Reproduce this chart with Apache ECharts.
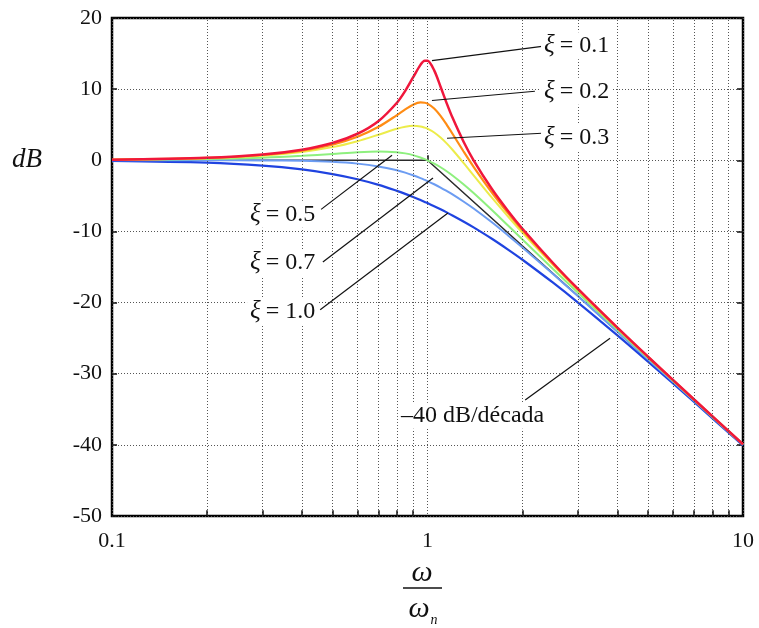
<!DOCTYPE html>
<html>
<head>
<meta charset="utf-8">
<script src="https://cdn.jsdelivr.net/npm/echarts@6/dist/echarts.min.js"></script>
<style>
  html, body { margin: 0; padding: 0; background: #fff; }
  #bode { width: 759px; height: 628px; }
</style>
</head>
<body>
<div id="bode"></div>
<script>
// normalised frequency w/wn
let freq = [0.1, 0.2, 0.3, 0.4, 0.5, 0.6, 0.7, 0.8, 0.85, 0.9, 0.95, 0.98, 1.0, 1.05, 1.1, 1.15, 1.2, 1.3, 1.4, 1.6, 1.8, 2, 2.5, 3, 4, 5, 7, 10];
// magnitude in dB, one list per damping ratio
let z01 = [0.09, 0.35, 0.80, 1.48, 2.42, 3.73, 5.53, 8.09, 9.75, 11.64, 13.41, 13.98, 13.98, 12.63, 10.34, 8.04, 6.00, 2.65, 0.00, -4.04, -7.12, -9.62, -14.44, -18.09, -23.53, -27.61, -33.63, -39.92];
let z02 = [0.08, 0.33, 0.74, 1.36, 2.20, 3.31, 4.71, 6.35, 7.15, 7.81, 8.13, 8.09, 7.96, 7.28, 6.24, 5.01, 3.73, 1.27, -0.92, -4.54, -7.43, -9.84, -14.56, -18.16, -23.57, -27.63, -33.64, -39.92];
let z03 = [0.07, 0.29, 0.65, 1.17, 1.85, 2.68, 3.60, 4.44, 4.72, 4.85, 4.76, 4.59, 4.44, 3.90, 3.19, 2.37, 1.48, -0.35, -2.11, -5.26, -7.91, -10.19, -14.74, -18.28, -23.63, -27.67, -33.66, -39.93];
let z05 = [0.04, 0.17, 0.37, 0.63, 0.90, 1.14, 1.25, 1.14, 0.97, 0.73, 0.40, 0.17, 0.00, -0.47, -0.98, -1.54, -2.13, -3.36, -4.60, -6.98, -9.17, -11.14, -15.29, -18.63, -23.82, -27.79, -33.72, -39.96];
let z07 = [0.00, 0.00, -0.02, -0.08, -0.22, -0.47, -0.87, -1.41, -1.74, -2.11, -2.50, -2.75, -2.92, -3.37, -3.83, -4.31, -4.79, -5.79, -6.78, -8.72, -10.56, -12.26, -16.00, -19.12, -24.09, -27.96, -33.80, -40.00];
let z10 = [-0.09, -0.34, -0.75, -1.29, -1.94, -2.67, -3.46, -4.30, -4.72, -5.15, -5.59, -5.85, -6.02, -6.46, -6.89, -7.32, -7.75, -8.60, -9.43, -11.03, -12.55, -13.98, -17.21, -20.00, -24.61, -28.30, -33.98, -40.09];
// straight-line asymptote
let asymX = [0.1, 1, 10];
let asymY = [0, 0, -40];
// minor log grid
let minorX = [0.2, 0.3, 0.4, 0.5, 0.6, 0.7, 0.8, 0.9, 2, 3, 4, 5, 6, 7, 8, 9];
let yTicks = [-50, -40, -30, -20, -10, 0, 10, 20];

// annotations: text, where the text starts, leader line (from, to)
let noteText = ["{i|ξ}{r|= 0.1}", "{i|ξ}{r|= 0.2}", "{i|ξ}{r|= 0.3}", "{i|ξ}{r|= 0.5}", "{i|ξ}{r|= 0.7}", "{i|ξ}{r|= 1.0}", "{r|–40 dB/década}"];
let notePos = [[2.29, 16.1], [2.29, 9.7], [2.29, 3.2], [0.268, -7.6], [0.268, -14.4], [0.268, -21.3], [0.806, -35.9]];
let leadFrom = [[2.306, 16.0], [2.19, 9.7], [2.306, 3.8], [0.46, -6.9], [0.466, -14.3], [0.457, -21.0], [2.04, -33.7]];
let leadTo = [[1.033, 14.0], [1.033, 8.4], [1.153, 3.1], [0.772, 0.7], [1.041, -2.5], [1.161, -7.4], [3.79, -25.0]];

const serif = '"Liberation Serif", "DejaVu Serif", serif';

function pairs(vals) {
  return freq.map((f, i) => [f, vals[i]]);
}

function curve(name, vals, color, width) {
  return {
    name: name,
    type: "line",
    data: pairs(vals),
    smooth: 0.3,
    symbol: "none",
    lineStyle: { color: color, width: width }
  };
}

let gridLines = minorX.map(v => ({ xAxis: v }));
let bottomTicks = minorX.map(v => [
  { coord: [v, -50], lineStyle: { type: "solid", color: "#111", width: 1.5 } },
  { coord: [v, -49.2] }
]);
let leaders = leadFrom.map((p, i) => [
  { coord: p, lineStyle: { type: "solid", color: "#111", width: 1.2 } },
  { coord: leadTo[i] }
]);

let option = {
  animation: false,
  backgroundColor: "#fff",
  grid: {
    left: 112,
    right: 16,
    top: 18,
    bottom: 112,
    show: true,
    borderColor: "#000",
    borderWidth: 2.5,
    outerBoundsMode: "none"
  },
  xAxis: {
    type: "log",
    logBase: 10,
    min: 0.1,
    max: 10,
    axisLine: { show: false },
    axisTick: { show: true, inside: true, length: 5, lineStyle: { color: "#111", width: 1.5 } },
    axisLabel: {
      color: "#111",
      fontFamily: serif,
      fontSize: 22,
      margin: 14,
      formatter: v => String(Number(v.toPrecision(3)))
    },
    splitLine: { show: true, lineStyle: { color: "#555", width: 1, type: [1, 2] } }
  },
  yAxis: [
    {
      type: "value",
      min: -50,
      max: 20,
      interval: 10,
      axisLine: { show: false },
      axisTick: { show: true, inside: true, length: 5, lineStyle: { color: "#111", width: 1.5 } },
      axisLabel: { color: "#111", fontFamily: serif, fontSize: 22, margin: 10 },
      splitLine: { show: true, lineStyle: { color: "#555", width: 1, type: [1, 2] } }
    },
    {
      type: "value",
      position: "right",
      min: -50,
      max: 20,
      interval: 10,
      axisLine: { show: false },
      axisTick: { show: true, inside: true, length: 6, lineStyle: { color: "#111", width: 1.5 } },
      axisLabel: { show: false },
      splitLine: { show: false }
    }
  ],
  graphic: [
    { type: "text", x: 12, y: 160, style: { text: "dB", fontFamily: serif, fontStyle: "italic", fontSize: 27, fill: "#111", verticalAlign: "middle" } },
    { type: "text", x: 422, y: 573, style: { text: "ω", fontFamily: serif, fontStyle: "italic", fontSize: 30, fill: "#111", align: "center", verticalAlign: "middle" } },
    { type: "line", shape: { x1: 403, y1: 588, x2: 442, y2: 588 }, style: { stroke: "#111", lineWidth: 1.3 } },
    { type: "text", x: 419, y: 609, style: { text: "ω", fontFamily: serif, fontStyle: "italic", fontSize: 30, fill: "#111", align: "center", verticalAlign: "middle" } },
    { type: "text", x: 434, y: 620, style: { text: "n", fontFamily: serif, fontStyle: "italic", fontSize: 14, fill: "#111", align: "center", verticalAlign: "middle" } }
  ],
  series: [
    {
      name: "asymptote",
      type: "line",
      data: asymX.map((x, i) => [x, asymY[i]]),
      symbol: "none",
      lineStyle: { color: "#2b2b2b", width: 1.5 },
      markLine: {
        silent: true,
        symbol: ["none", "none"],
        label: { show: false },
        lineStyle: { color: "#555", width: 1, type: [1, 2] },
        data: gridLines.concat(bottomTicks)
      }
    },
    curve("ξ = 1.0", z10, "#1f43e0", 2.2),
    curve("ξ = 0.7", z07, "#6c9cf2", 2),
    curve("ξ = 0.5", z05, "#8ef07e", 2),
    curve("ξ = 0.3", z03, "#ecec4a", 2),
    curve("ξ = 0.2", z02, "#ff8c14", 2.2),
    Object.assign(curve("ξ = 0.1", z01, "#f0173c", 2.5), {
      markLine: {
        silent: true,
        symbol: ["none", "none"],
        label: { show: false },
        data: leaders
      },
      markPoint: {
        silent: true,
        symbol: "circle",
        symbolSize: 0,
        data: notePos.map((p, i) => ({
          coord: p,
          label: {
            show: true,
            position: "right",
            distance: 0,
            formatter: noteText[i],
            backgroundColor: "#fff",
            padding: [1, 3],
            rich: {
              i: { fontFamily: serif, fontStyle: "italic", fontSize: 25, color: "#111", padding: [0, 5, 0, 0] },
              r: { fontFamily: serif, fontSize: 24, color: "#111" }
            }
          }
        }))
      }
    })
  ]
};

let bode = echarts.init(document.getElementById("bode"));
bode.setOption(option);
</script>
</body>
</html>
